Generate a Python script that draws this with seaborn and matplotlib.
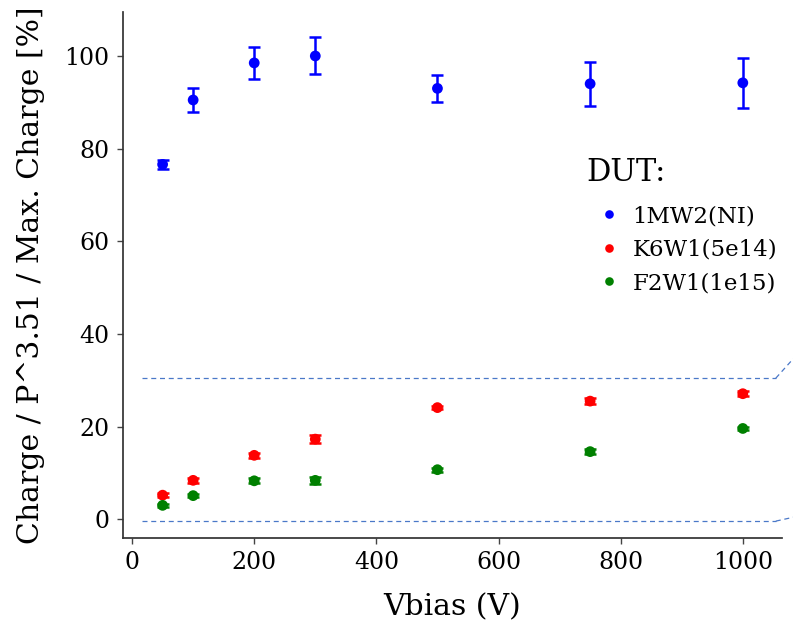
import numpy as np
import pandas as pd
import matplotlib
matplotlib.use("Agg")
import matplotlib.pyplot as plt
import seaborn as sns

vbias = [50, 100, 200, 300, 500, 750, 1000]
labels = ["1MW2(NI)", "K6W1(5e14)", "F2W1(1e15)"]
colors = ["blue", "red", "green"]
ni_vals = [76.6, 90.5, 98.5, 100.0, 93.0, 94.0, 94.2]
ni_err = [1.0, 2.6, 3.5, 4.0, 2.9, 4.7, 5.4]
k6_vals = [5.2, 8.4, 13.8, 17.3, 24.1, 25.5, 27.1]
k6_err = [0.4, 0.6, 0.6, 0.9, 0.4, 0.7, 0.5]
f2_vals = [3.0, 5.1, 8.3, 8.4, 10.7, 14.6, 19.6]
f2_err = [0.4, 0.4, 0.5, 0.7, 0.4, 0.6, 0.4]

sns.set_theme(style="ticks")
plt.rcParams['font.family'] = ['DejaVu Serif']
plt.rcParams['text.color'] = 'black'
plt.rcParams['axes.labelcolor'] = 'black'

df = pd.concat([
    pd.DataFrame({"Vbias": vbias, "val": v, "err": e, "DUT": l})
    for v, e, l in zip([ni_vals, k6_vals, f2_vals], [ni_err, k6_err, f2_err], labels)
])

fig, ax = plt.subplots(figsize=(7.93, 6.29), dpi=100)
fig.subplots_adjust(left=0.155, right=0.986, bottom=0.145, top=0.981)

for l, c in zip(labels, colors):
    d = df[df.DUT == l]
    ax.errorbar(d.Vbias, d.val, yerr=d.err, fmt="none", ecolor=c, elinewidth=1.8,
                capsize=4.5, capthick=1.8, zorder=2)
sns.scatterplot(data=df, x="Vbias", y="val", hue="DUT", palette=colors,
                s=60, edgecolor=None, linewidth=0, ax=ax, zorder=3)

ax.set_xlim(-15, 1064)
ax.set_ylim(-4, 109.5)
ax.set_xticks([0, 200, 400, 600, 800, 1000])
ax.set_yticks([0, 20, 40, 60, 80, 100])
ax.tick_params(labelsize=17, length=4.5, width=1, pad=5, colors="#444444", labelcolor="black")
sns.despine(ax=ax)
ax.spines["left"].set_color("#333333")
ax.spines["bottom"].set_color("#333333")

ax.set_xlabel("Vbias (V)", fontsize=21.5, labelpad=14)
ax.set_ylabel("Charge / P^3.51 / Max. Charge [%]", fontsize=21.5, labelpad=14)

# zoom indicator lines
for yv, y2 in [(30.45, 35), (-0.4, 0.5)]:
    ax.plot([17, 1054], [yv, yv], ls=(0, (4, 3)), color="#4a78c8", lw=0.9, zorder=1)
    ax.plot([1054, 1085], [yv, y2], ls=(0, (4, 3)), color="#4a78c8", lw=0.9,
            clip_on=False, zorder=1)

leg = ax.legend(title="DUT:", loc="upper left", bbox_to_anchor=(0.686, 0.745),
                frameon=False, fontsize=16.5, title_fontsize=22,
                handletextpad=0.0, markerscale=0.8, borderpad=0.0, labelspacing=0.5)
leg._legend_box.align = "left"
leg._legend_box.sep = 12

fig.savefig("out.png", dpi=100)
